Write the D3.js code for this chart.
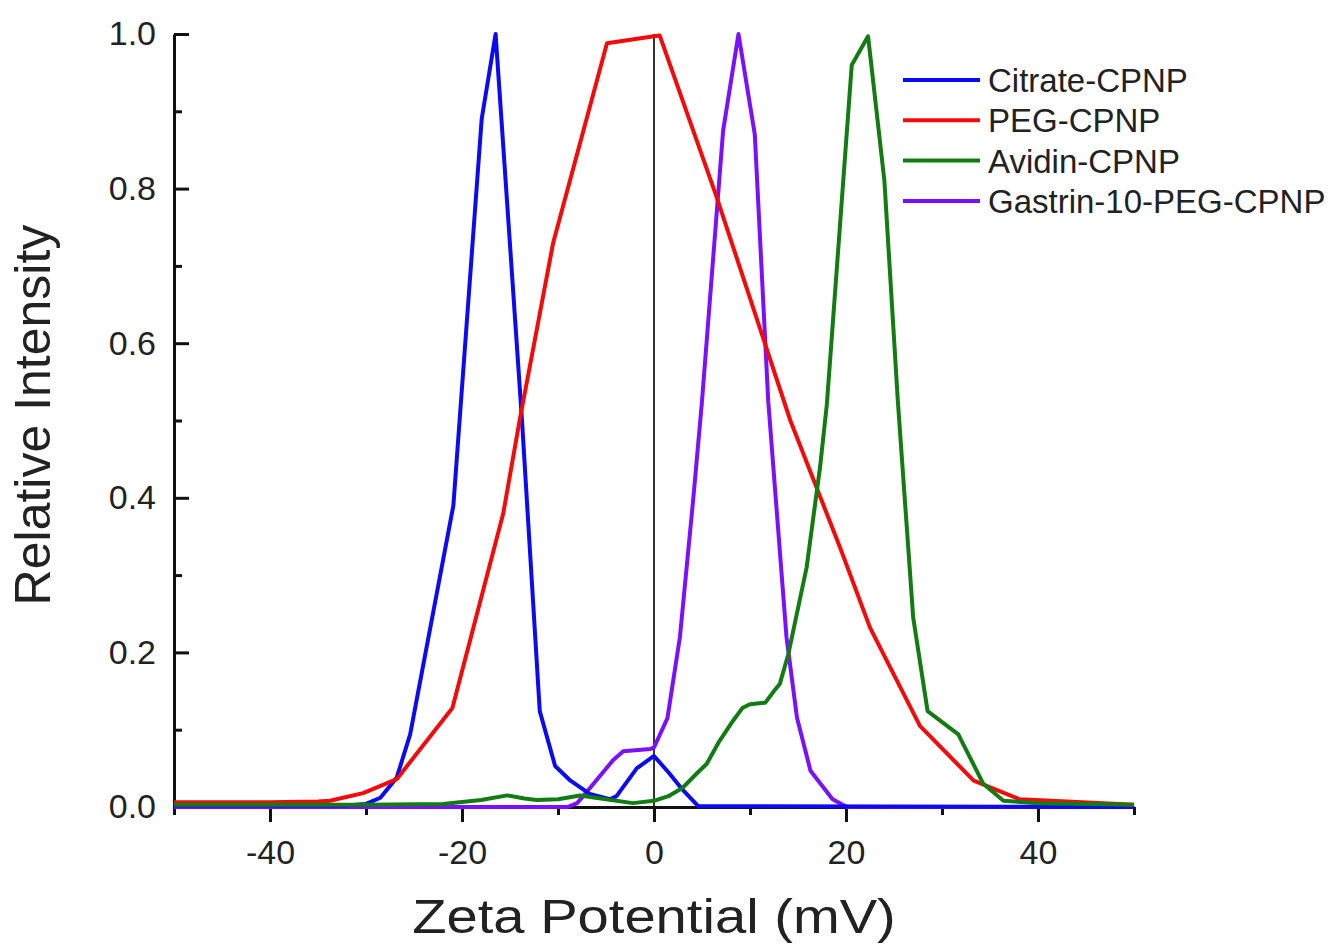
<!DOCTYPE html>
<html>
<head>
<meta charset="utf-8">
<script src="https://cdn.jsdelivr.net/npm/d3@7"></script>
<style>
  body { margin: 0; background: #fff; }
  text { font-family: "Liberation Sans", Arial, sans-serif; fill: #222; }
</style>
</head>
<body>
<svg width="1332" height="946"></svg>
<script>
// series: [zeta potential (mV), relative intensity]
var citrate = [[-50,0.002],[-32,0.002],[-30,0.004],[-28.5,0.012],[-26.8,0.038],[-25.4,0.094],[-20.9,0.39],
  [-17.95,0.89],[-16.5,1.0],[-13.75,0.5],[-11.9,0.124],[-10.3,0.053],[-8.7,0.034],[-6.7,0.017],[-4.6,0.01],
  [-3.9,0.014],[-1.8,0.05],[0,0.066],[1.5,0.045],[3,0.022],[4.6,0.001],[50,0.0]];
var peg = [[-50,0.006],[-40,0.006],[-35,0.007],[-33.75,0.008],[-30.3,0.018],[-26.8,0.036],[-21,0.128],
  [-15.7,0.38],[-14,0.5],[-10.5,0.73],[-4.9,0.988],[0,0.997],[0.6,0.998],[6.5,0.79],[14.2,0.5],[19.4,0.335],
  [22.5,0.232],[27.7,0.105],[33.3,0.034],[38.1,0.01],[43,0.007],[50,0.003]];
var avidin = [[-50,0.003],[-30,0.003],[-22,0.004],[-18,0.009],[-15.3,0.015],[-13.5,0.011],[-12.2,0.009],
  [-10,0.01],[-7.7,0.015],[-5,0.01],[-2.2,0.005],[0,0.008],[1.5,0.014],[3,0.025],[4.5,0.044],[5.5,0.056],
  [6.8,0.085],[8.2,0.111],[9.2,0.128],[10,0.133],[11.6,0.135],[12.5,0.15],[13.1,0.159],[14,0.198],
  [15.9,0.31],[17.3,0.44],[18,0.52],[20.6,0.96],[22.3,0.997],[24,0.81],[25.4,0.525],[27,0.245],
  [28.5,0.124],[31.7,0.094],[34.3,0.03],[36.4,0.008],[40,0.005],[50,0.003]];
var gastrin = [[-50,0],[-9,0.0],[-8,0.005],[-6.3,0.03],[-4.3,0.06],[-3.2,0.072],[-0.4,0.075],[0,0.077],
  [1.4,0.115],[2.7,0.22],[4.1,0.4],[5,0.525],[7.2,0.875],[8.8,1.0],[10.5,0.87],[11.9,0.525],[13.8,0.22],
  [14.9,0.115],[16.3,0.047],[18.6,0.01],[20.1,0.0],[50,0]];

var seriesNames = ["Citrate-CPNP", "PEG-CPNP", "Avidin-CPNP", "Gastrin-10-PEG-CPNP"];
var seriesColors = ["#0a0af5", "#f50a0a", "#127c12", "#7a10ff"];
var seriesData = [citrate, peg, avidin, gastrin];
var drawOrder = [3, 0, 1, 2];

var xMajor = [-40, -20, 0, 20, 40];
var xMinor = [-50, -30, -10, 10, 30, 50];
var yMajor = [0, 0.2, 0.4, 0.6, 0.8, 1.0];
var yMinor = [0.1, 0.3, 0.5, 0.7, 0.9];

var svg = d3.select("svg");

var x = d3.scaleLinear().domain([-50, 50]).range([174, 1134]);
var y = d3.scaleLinear().domain([0, 1]).range([807, 34]);

// zero line
svg.append("line")
    .attr("x1", x(0)).attr("x2", x(0))
    .attr("y1", y(1)).attr("y2", y(0))
    .style("stroke", "#333").style("stroke-width", 2);

// x axis: major + minor ticks pointing down
svg.append("g").attr("transform", "translate(0," + y(0) + ")")
    .call(d3.axisBottom(x).tickValues(xMajor).tickSizeInner(15).tickSizeOuter(0).tickPadding(18)
      .tickFormat(function(d) { return String(d); }));
svg.append("g").attr("transform", "translate(0," + y(0) + ")")
    .call(d3.axisBottom(x).tickValues(xMinor).tickSize(8).tickFormat(""))
    .select(".domain").remove();

// y axis: ticks pointing into the plot
svg.append("g").attr("transform", "translate(" + x(-50) + ",0)")
    .call(d3.axisLeft(y).tickValues(yMajor).tickSizeInner(-15).tickSizeOuter(0).tickPadding(18)
      .tickFormat(d3.format(".1f")));
svg.append("g").attr("transform", "translate(" + x(-50) + ",0)")
    .call(d3.axisLeft(y).tickValues(yMinor).tickSize(-8).tickFormat(""))
    .select(".domain").remove();

svg.selectAll(".domain, .tick line").style("stroke", "#111").style("stroke-width", 3);
svg.selectAll(".tick text").style("font-size", "34px").style("fill", "#222")
    .style("font-family", "'Liberation Sans', Arial, sans-serif");

// curves
var line = d3.line().x(function(d) { return x(d[0]); }).y(function(d) { return y(d[1]); });
drawOrder.forEach(function(i) {
  svg.append("path")
      .datum(seriesData[i])
      .attr("d", line)
      .style("fill", "none")
      .style("stroke", seriesColors[i])
      .style("stroke-width", 4)
      .style("stroke-linejoin", "round");
});

// legend
var legend = svg.append("g").selectAll("g")
    .data(seriesNames)
    .enter().append("g")
      .attr("transform", function(d, i) { return "translate(903," + (80 + i * 40.3) + ")"; });
legend.append("line")
    .attr("x1", 0).attr("x2", 77)
    .style("stroke", function(d, i) { return seriesColors[i]; })
    .style("stroke-width", 4);
legend.append("text")
    .attr("x", 85).attr("y", 12)
    .style("font-size", "33px")
    .text(function(d) { return d; });

// axis titles (x title is a bit wider in the original)
svg.append("text")
    .attr("transform", "translate(" + x(0) + ",933) scale(1.17,1)")
    .attr("text-anchor", "middle")
    .style("font-size", "48px")
    .text("Zeta Potential (mV)");
svg.append("text")
    .attr("transform", "translate(50,415) rotate(-90)")
    .attr("text-anchor", "middle")
    .style("font-size", "50px")
    .text("Relative Intensity");
</script>
</body>
</html>
